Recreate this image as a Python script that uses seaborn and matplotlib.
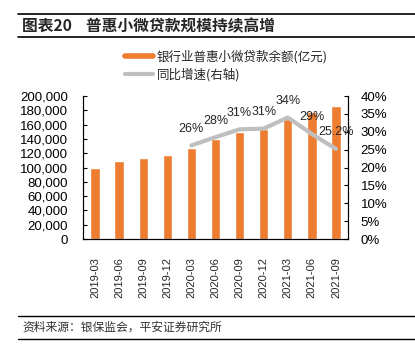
import numpy as np
import pandas as pd
import seaborn as sns
import matplotlib.pyplot as plt
from matplotlib.lines import Line2D
from matplotlib.ticker import FuncFormatter, FixedLocator

dates = ['2019-03', '2019-06', '2019-09', '2019-12', '2020-03', '2020-06',
         '2020-09', '2020-12', '2021-03', '2021-06', '2021-09']
balance = [99500, 108500, 114000, 117500, 126800, 139400,
           149200, 154300, 167400, 177600, 186400]
growth_dates = ['2020-03', '2020-06', '2020-09', '2020-12', '2021-03', '2021-06', '2021-09']
growth = [26.2, 28.5, 30.7, 30.9, 34.0, 29.4, 25.2]
growth_labels = ['26%', '28%', '31%', '31%', '34%', '29%', '25.2%']

sns.set_style('white')
plt.rcParams['font.family'] = ['Liberation Sans', 'Noto Sans CJK SC', 'DejaVu Sans']
cjk = ['Noto Sans CJK SC', 'DejaVu Sans']

orange = '#ED7D31'
grey = '#BFBFBF'

df = pd.DataFrame({'date': dates, 'balance': balance})
gdf = pd.DataFrame({'pos': [dates.index(d) for d in growth_dates], 'growth': growth})

fig = plt.figure(figsize=(4.15, 3.52), dpi=100)
ax = fig.add_axes([0.2, 0.321, 0.6386, 0.406])
sns.barplot(data=df, x='date', y='balance', color=orange, width=0.39,
            saturation=1, ax=ax)
ax.set_xlim(-0.5, len(dates) - 0.5)
ax.set_ylim(0, 200000)
ax.set_yticks(np.arange(0, 200001, 20000))
ax.yaxis.set_major_formatter(FuncFormatter(lambda v, p: f'{int(v):,}'))
ax.set_xlabel('')
ax.set_ylabel('')
ax.tick_params(axis='y', direction='in', length=3, width=0.8, pad=11,
               labelsize=9.5, colors='black')
ax.tick_params(axis='x', which='major', length=0, pad=13, labelsize=8,
               labelrotation=90)
ax.xaxis.set_minor_locator(FixedLocator(np.arange(0.5, len(dates) - 1, 1)))
ax.tick_params(axis='x', which='minor', direction='in', length=3, width=0.8)

ax2 = ax.twinx()
sns.lineplot(data=gdf, x='pos', y='growth', color=grey, linewidth=3, ax=ax2)
for x, y, t in zip(gdf['pos'], gdf['growth'], growth_labels):
    ax2.annotate(t, (x, y), xytext=(0, 12), textcoords='offset points',
                 ha='center', va='center', fontsize=9)
ax2.set_ylim(0, 40)
ax2.set_yticks(np.arange(0, 41, 5))
ax2.yaxis.set_major_formatter(FuncFormatter(lambda v, p: f'{int(v)}%'))
ax2.set_ylabel('')
ax2.set_xlabel('')
ax2.tick_params(axis='y', direction='in', length=3, width=0.8, pad=9,
                labelsize=9.5, colors='black')
ax2.set_xlim(-0.5, len(dates) - 0.5)

for a in (ax, ax2):
    a.grid(False)
    a.spines['top'].set_visible(False)
    for s in ('left', 'right', 'bottom'):
        a.spines[s].set_color('black')
        a.spines[s].set_linewidth(0.8)

handles = [Line2D([], [], color=orange, linewidth=4),
           Line2D([], [], color=grey, linewidth=3)]
fig.legend(handles, ['银行业普惠小微贷款余额(亿元)', '同比增速(右轴)'],
           loc='upper left', bbox_to_anchor=(0.285, 0.875), frameon=False,
           prop={'family': cjk, 'size': 9}, handlelength=2.3,
           handletextpad=0.3, labelspacing=0.35, borderpad=0)

# title block
fig.add_artist(Line2D([0.043, 1], [1 - 14 / 352] * 2, color='black', linewidth=1.2))
fig.add_artist(Line2D([0.043, 1], [1 - 37 / 352] * 2, color='black', linewidth=1.2))
fig.text(0.053, 1 - 26 / 352, '图表20    普惠小微贷款规模持续高增', ha='left', va='center',
         fontsize=11.3, fontweight='bold', family=cjk)

# source block
fig.add_artist(Line2D([0.043, 1], [1 - 316 / 352] * 2, color='black', linewidth=1))
fig.add_artist(Line2D([0.043, 1], [1 - 339 / 352] * 2, color='black', linewidth=1))
fig.text(0.053, 1 - 327.5 / 352, '资料来源：银保监会，平安证券研究所', ha='left', va='center',
         fontsize=8.5, style='italic', color='#333333', family=cjk)

fig.savefig('out.png', dpi=100)
